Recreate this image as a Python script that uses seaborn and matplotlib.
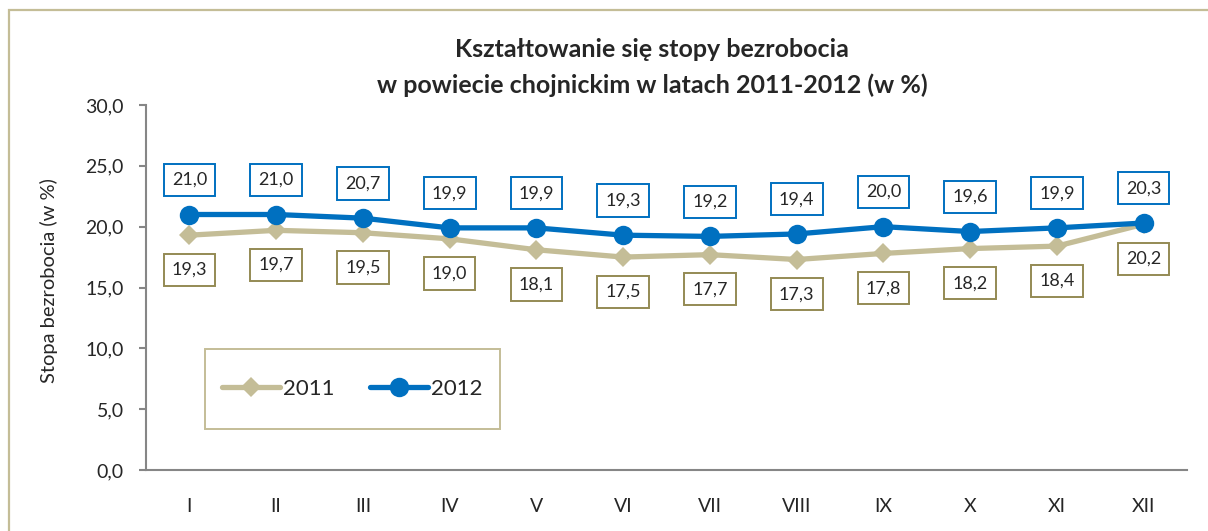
import matplotlib
matplotlib.use('Agg')
import matplotlib.pyplot as plt
import pandas as pd
import seaborn as sns
from matplotlib.patches import Rectangle

# Data
months = ['I', 'II', 'III', 'IV', 'V', 'VI', 'VII', 'VIII', 'IX', 'X', 'XI', 'XII']
rate_2011 = [19.3, 19.7, 19.5, 19.0, 18.1, 17.5, 17.7, 17.3, 17.8, 18.2, 18.4, 20.2]
rate_2012 = [21.0, 21.0, 20.7, 19.9, 19.9, 19.3, 19.2, 19.4, 20.0, 19.6, 19.9, 20.3]
years = ['2011', '2012']

sns.set_style('white')
plt.rcParams['font.family'] = ['Lato', 'DejaVu Sans']

df = pd.DataFrame({
    'month': months * 2,
    'value': rate_2011 + rate_2012,
    'year': [years[0]] * 12 + [years[1]] * 12,
})
df['pos'] = list(range(12)) * 2

col_2011 = '#C4BD97'
col_2012 = '#0070C0'
edge_2011 = '#948A54'
grey = '#868686'

fig = plt.figure(figsize=(12.08, 5.31), dpi=100)
ax = fig.add_axes([146 / 1208, 61 / 531, 1041 / 1208, 365 / 531])

# outer chart frame
fig.patches.append(Rectangle((9 / 1208, -0.1), 1.2, 1.1 - 10 / 531, transform=fig.transFigure,
                             fill=False, edgecolor=col_2011, linewidth=1.6, zorder=0))

sns.lineplot(data=df, x='pos', y='value', hue='year', palette=[col_2011, col_2012],
             style='year', markers={'2011': 'D', '2012': 'o'}, dashes=False,
             linewidth=3.8, markeredgewidth=0, legend=False, ax=ax)
# marker sizes per series
lines = ax.get_lines()
lines[0].set_markersize(10)
lines[1].set_markersize(14)
lines[1].set_zorder(3)

# data labels
for i in range(12):
    ax.annotate(f'{rate_2011[i]:.1f}'.replace('.', ','), (i, rate_2011[i]),
                xytext=(0, -25), textcoords='offset points', ha='center', va='center',
                fontsize=13, bbox=dict(boxstyle='square,pad=0.45', fc='white',
                                       ec=edge_2011, lw=1.4))
    ax.annotate(f'{rate_2012[i]:.1f}'.replace('.', ','), (i, rate_2012[i]),
                xytext=(0, 25), textcoords='offset points', ha='center', va='center',
                fontsize=13, bbox=dict(boxstyle='square,pad=0.45', fc='white',
                                       ec=col_2012, lw=1.4))

ax.set_xlim(-0.5, 11.5)
ax.set_ylim(0, 30)
ax.set_yticks([0, 5, 10, 15, 20, 25, 30])
ax.set_yticklabels([f'{v:.1f}'.replace('.', ',') for v in [0, 5, 10, 15, 20, 25, 30]])
ax.set_xticks(range(12))
ax.set_xticklabels(months)
ax.set_xticks([i - 0.5 for i in range(13)], minor=True)
ax.tick_params(axis='x', which='major', length=0, pad=20, labelsize=14)
ax.tick_params(axis='x', which='minor', length=6, width=1.5, color=grey, direction='out')
ax.tick_params(axis='y', length=5, width=1.5, color=grey, pad=11, labelsize=14, left=True)
ax.set_xlabel('')
ax.set_ylabel('Stopa bezrobocia (w %)', fontsize=14.5)
ax.yaxis.set_label_coords(-88 / 1041, 0.52)

for s in ['top', 'right']:
    ax.spines[s].set_visible(False)
for s in ['left', 'bottom']:
    ax.spines[s].set_color(grey)
    ax.spines[s].set_linewidth(1.5)

# legend with its own frame
ax.add_patch(Rectangle((59 / 1041, 41 / 365), 295 / 1041, 80 / 365, transform=ax.transAxes,
                       fill=False, edgecolor=col_2011, linewidth=1.4, zorder=4))
handles = [plt.Line2D([], [], color=col_2011, lw=3.8, marker='D', ms=10, mew=0),
           plt.Line2D([], [], color=col_2012, lw=3.8, marker='o', ms=14, mew=0)]
ax.legend(handles, years, loc='center', bbox_to_anchor=((59 + 147.5) / 1041, 81 / 365),
          ncol=2, frameon=False, fontsize=16, handlelength=2.6, handletextpad=0.15,
          columnspacing=1.6)

fig.suptitle('Kształtowanie się stopy bezrobocia\nw powiecie chojnickim w latach 2011-2012 (w %)',
             fontsize=18, fontweight='bold', x=652 / 1208, y=1 - 38 / 531, va='top',
             linespacing=1.65)

fig.savefig('out.png', dpi=100)
